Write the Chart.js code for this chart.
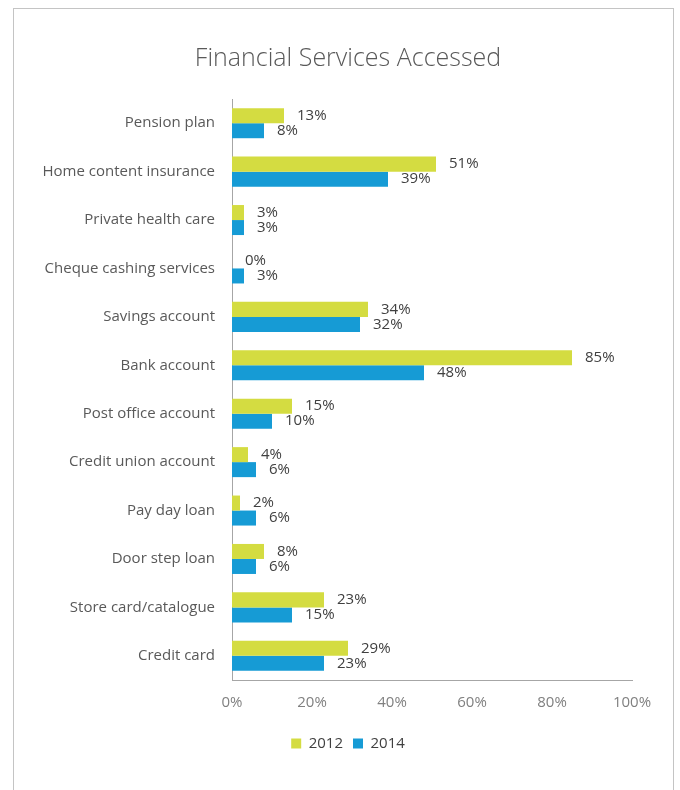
<!DOCTYPE html>
<html>
<head>
<meta charset="utf-8">
<script src="https://cdn.jsdelivr.net/npm/chart.js@4"></script>
<style>
  body { margin: 0; background: #fff; }
  #frame { position: absolute; left: 13px; top: 8px; width: 659px; height: 800px; border: 1px solid #c4c4c4; }
  #wrap { position: absolute; left: 0; top: 0; width: 680px; height: 790px; }
</style>
</head>
<body>
<div id="frame"></div>
<div id="wrap"><canvas id="chart" width="680" height="790"></canvas></div>
<script>
const categories = [
  'Pension plan', 'Home content insurance', 'Private health care', 'Cheque cashing services',
  'Savings account', 'Bank account', 'Post office account', 'Credit union account',
  'Pay day loan', 'Door step loan', 'Store card/catalogue', 'Credit card'
];
const values2012 = [13, 51, 3, 0, 34, 85, 15, 4, 2, 8, 23, 29];
const values2014 = [8, 39, 3, 3, 32, 48, 10, 6, 6, 6, 15, 23];
const xTicks = [0, 20, 40, 60, 80, 100];

const FONT = "'Open Sans', sans-serif";

// writes the percentage just past the end of each bar
const valueLabels = {
  id: 'valueLabels',
  afterDatasetsDraw(chart) {
    const ctx = chart.ctx;
    ctx.save();
    ctx.font = '15px ' + FONT;
    ctx.fillStyle = '#404040';
    ctx.textBaseline = 'middle';
    ctx.textAlign = 'left';
    chart.data.datasets.forEach((ds, i) => {
      chart.getDatasetMeta(i).data.forEach((bar, j) => {
        ctx.fillText(ds.data[j] + '%', bar.x + 13, bar.y);
      });
    });
    ctx.restore();
  }
};

new Chart(document.getElementById('chart'), {
  type: 'bar',
  data: {
    labels: categories,
    datasets: [
      { label: '2012', data: values2012, backgroundColor: '#d4dc41', categoryPercentage: 0.62, barPercentage: 1 },
      { label: '2014', data: values2014, backgroundColor: '#169bd5', categoryPercentage: 0.62, barPercentage: 1 }
    ]
  },
  options: {
    indexAxis: 'y',
    responsive: false,
    animation: false,
    layout: { padding: { left: 20, right: 4, top: 0, bottom: 29 } },
    scales: {
      x: {
        min: 0,
        max: 100,
        afterBuildTicks: s => { s.ticks = xTicks.map(v => ({ value: v })); },
        grid: { display: false, drawTicks: false },
        border: { color: '#a6a6a6', width: 1 },
        ticks: {
          padding: 14,
          color: '#808080',
          font: { family: FONT, size: 15 },
          callback: v => v + '%'
        }
      },
      y: {
        afterFit: s => { s.width = 232 - 20; },
        grid: { display: false, drawTicks: false },
        border: { color: '#a6a6a6', width: 1 },
        ticks: {
          padding: 17,
          color: '#595959',
          font: { family: FONT, size: 15 }
        }
      },
      // empty strip on the right, keeps room for the value labels
      yRight: {
        type: 'category',
        position: 'right',
        afterFit: s => { s.width = 44; },
        grid: { display: false, drawTicks: false },
        border: { display: false },
        ticks: { display: false }
      }
    },
    plugins: {
      title: {
        display: true,
        text: 'Financial Services Accessed',
        color: '#595959',
        font: { family: FONT, size: 25, weight: '300' },
        padding: { top: 44, bottom: 25 }
      },
      legend: {
        position: 'bottom',
        labels: {
          color: '#404040',
          font: { family: FONT, size: 15 },
          boxWidth: 10,
          boxHeight: 10,
          padding: 10
        }
      },
      tooltip: { enabled: false }
    }
  },
  plugins: [valueLabels]
});
</script>
</body>
</html>
